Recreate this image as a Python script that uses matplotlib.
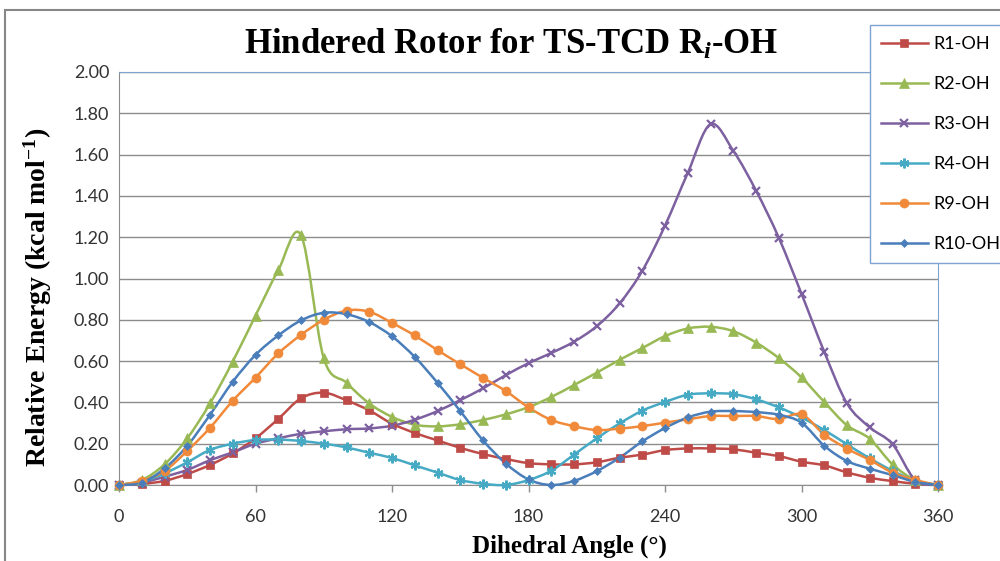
import numpy as np
import matplotlib
matplotlib.use("Agg")
import matplotlib.pyplot as plt
from matplotlib.path import Path
from matplotlib.patches import PathPatch, Rectangle
from matplotlib.lines import Line2D

plt.rcParams['mathtext.fontset'] = 'custom'
plt.rcParams['mathtext.rm'] = 'Liberation Serif:bold'
plt.rcParams['mathtext.it'] = 'Liberation Serif:italic:bold'
plt.rcParams['mathtext.bf'] = 'Liberation Serif:bold'

# dihedral angle, every 10 degrees
angle = list(range(0, 361, 10))

r1_oh = [0.00, 0.005, 0.02, 0.053, 0.097, 0.153, 0.226, 0.32, 0.42, 0.447, 0.41, 0.361, 0.297,
         0.252, 0.216, 0.18, 0.15, 0.126, 0.106, 0.10, 0.10, 0.11, 0.132, 0.147, 0.169, 0.177,
         0.177, 0.173, 0.156, 0.14, 0.113, 0.095, 0.061, 0.035, 0.019, 0.006, 0.00]
r2_oh = [0.00, 0.024, 0.10, 0.226, 0.395, 0.598, 0.82, 1.04, 1.21, 0.614, 0.495, 0.395, 0.33,
         0.292, 0.284, 0.294, 0.315, 0.342, 0.377, 0.426, 0.484, 0.544, 0.606, 0.663, 0.721, 0.758,
         0.766, 0.745, 0.69, 0.615, 0.521, 0.402, 0.289, 0.224, 0.10, 0.024, 0.00]
r3_oh = [0.00, 0.011, 0.04, 0.073, 0.12, 0.158, 0.20, 0.226, 0.248, 0.26, 0.27, 0.274, 0.287,
         0.316, 0.358, 0.411, 0.468, 0.532, 0.59, 0.639, 0.694, 0.769, 0.879, 1.037, 1.256, 1.511,
         1.747, 1.619, 1.426, 1.198, 0.926, 0.645, 0.395, 0.279, 0.198, 0.024, 0.00]
r4_oh = [0.00, 0.015, 0.056, 0.11, 0.17, 0.20, 0.218, 0.22, 0.213, 0.20, 0.182, 0.156, 0.131,
         0.095, 0.06, 0.024, 0.006, 0.00, 0.024, 0.069, 0.147, 0.226, 0.298, 0.36, 0.402, 0.437,
         0.444, 0.44, 0.415, 0.376, 0.327, 0.266, 0.197, 0.129, 0.069, 0.02, 0.00]
r9_oh = [0.00, 0.02, 0.068, 0.165, 0.277, 0.408, 0.52, 0.637, 0.727, 0.80, 0.845, 0.839, 0.785,
         0.724, 0.653, 0.585, 0.519, 0.455, 0.376, 0.315, 0.285, 0.266, 0.273, 0.285, 0.302, 0.318,
         0.334, 0.334, 0.334, 0.319, 0.342, 0.244, 0.176, 0.121, 0.06, 0.024, 0.00]
r10_oh = [0.00, 0.011, 0.08, 0.19, 0.34, 0.50, 0.63, 0.724, 0.797, 0.834, 0.827, 0.789, 0.72,
          0.62, 0.495, 0.358, 0.216, 0.104, 0.027, 0.00, 0.02, 0.067, 0.132, 0.211, 0.276, 0.327,
          0.355, 0.358, 0.353, 0.34, 0.302, 0.19, 0.116, 0.079, 0.048, 0.015, 0.00]

series_names = ['R1-OH', 'R2-OH', 'R3-OH', 'R4-OH', 'R9-OH', 'R10-OH']
series_values = [r1_oh, r2_oh, r3_oh, r4_oh, r9_oh, r10_oh]
colors = ['#BE4B48', '#98B954', '#7D60A0', '#46AAC5', '#F08A3A', '#4A7EBB']
markers = ['s', '^', 'x', (6, 2, 0), 'o', 'D']
marker_sizes = [6, 6.5, 6, 7, 6.5, 4.5]

x_ticks = [0, 60, 120, 180, 240, 300, 360]
y_ticks = [0.0, 0.2, 0.4, 0.6, 0.8, 1.0, 1.2, 1.4, 1.6, 1.8, 2.0]


# Excel-like smoothed line: cubic Bezier through every point
def smooth_path(x, y):
    pts = np.column_stack([x, y]).astype(float)
    n = len(pts)
    verts = [pts[0]]
    codes = [Path.MOVETO]
    for i in range(n - 1):
        p0 = pts[max(i - 1, 0)]
        p1 = pts[i]
        p2 = pts[i + 1]
        p3 = pts[min(i + 2, n - 1)]
        c1 = p1 + (p2 - p0) / 6.0
        c2 = p2 - (p3 - p1) / 6.0
        verts += [c1, c2, p2]
        codes += [Path.CURVE4] * 3
    return Path(verts, codes)


fig = plt.figure(figsize=(10, 5.61), dpi=100)
ax = fig.add_axes([0.119, 1 - 485 / 561, 0.819, (485 - 72) / 561])

for name, vals, c, m, ms in zip(series_names, series_values, colors, markers, marker_sizes):
    patch = PathPatch(smooth_path(angle, vals), facecolor='none', edgecolor=c, lw=1.8,
                      zorder=3, clip_on=False)
    ax.add_patch(patch)
    mew = 1.6 if m in ('x', (6, 2, 0)) else 0.5
    ax.plot(angle, vals, linestyle='none', marker=m, markersize=ms, color=c,
            markeredgecolor=c, markeredgewidth=mew, zorder=4, clip_on=False)

ax.set_xlim(0, 360)
ax.set_ylim(0, 2.0)
ax.set_xticks(x_ticks)
ax.set_yticks(y_ticks)
ax.set_yticklabels(['%.2f' % v for v in y_ticks])
ax.grid(axis='y', color='#8C8C8C', lw=1.0)
ax.set_axisbelow(True)
ax.tick_params(axis='x', direction='out', length=5, width=1, color='#8C8C8C', pad=12,
               labelsize=13, labelcolor='#333333')
ax.tick_params(axis='y', length=0, pad=7, labelsize=13, labelcolor='#333333')
for lab in ax.get_xticklabels() + ax.get_yticklabels():
    lab.set_fontfamily('Lato')
ax.spines['left'].set_color('#8C8C8C')
ax.spines['bottom'].set_color('#8C8C8C')
ax.spines['top'].set_color('#7FA3D0')
ax.spines['right'].set_color('#7FA3D0')

fig.text(0.511, 1 - 45 / 561, r'Hindered Rotor for TS-TCD R$_i$-OH', ha='center', va='center',
         fontsize=25, fontweight='bold', family='Liberation Serif')
fig.text(0.569, 1 - 546 / 561, 'Dihedral Angle (°)', ha='center', va='center',
         fontsize=18, fontweight='bold', family='Liberation Serif')
fig.text(0.038, 1 - 297 / 561, r'Relative Energy (kcal mol$^{-1}$)', ha='center', va='center',
         rotation=90, fontsize=20, fontweight='bold', family='Liberation Serif')

# outer chart border (cropped on the right and bottom)
fig.patches.append(Rectangle((0.005, -0.5), 2, 0.5 + 1 - 10 / 561, transform=fig.transFigure,
                             fill=False, edgecolor='#878787', lw=1.5))

handles = [Line2D([], [], color=c, lw=1.8, marker=m, markersize=ms,
                  markeredgewidth=(1.6 if m in ('x', (6, 2, 0)) else 0.5))
           for c, m, ms in zip(colors, markers, marker_sizes)]
leg = fig.legend(handles, series_names, loc='upper left', bbox_to_anchor=(0.870, 1 - 25 / 561),
                 frameon=True, fancybox=False, edgecolor='#7FA3D0', framealpha=1,
                 prop={'family': 'Lato', 'size': 13}, handlelength=2.6, handletextpad=0.3,
                 labelspacing=1.33, borderpad=0.6, borderaxespad=0)
leg.get_frame().set_linewidth(1.0)

fig.savefig('out.png', dpi=100)
